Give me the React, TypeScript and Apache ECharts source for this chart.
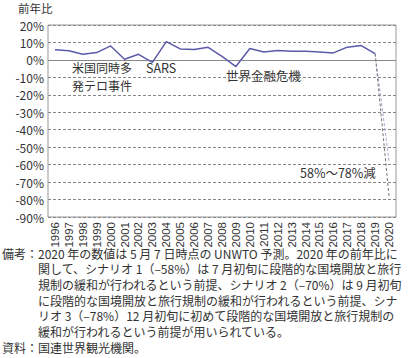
import React, { useEffect, useRef } from "react";
import * as echarts from "echarts";

const years = [
  "1996","1997","1998","1999","2000","2001","2002","2003","2004","2005",
  "2006","2007","2008","2009","2010","2011","2012","2013","2014","2015",
  "2016","2017","2018","2019","2020",
];
const growth = [
  5.8, 5.2, 3.2, 4.2, 8.0, 0.4, 3.2, -1.4, 10.5, 6.3,
  6.0, 7.2, 2.0, -3.8, 6.5, 4.5, 5.4, 5.0, 4.9, 4.6,
  4.0, 7.3, 8.2, 3.6, null,
];
const scenarioHigh = -58;
const scenarioLow = -78;
const yTicksMin = -90;
const yTicksMax = 20;
const yInterval = 10;

const noteLines = [
  "備考：2020 年の数値は 5 月 7 日時点の UNWTO 予測。2020 年の前年比に",
  "関して、シナリオ 1（–58%）は 7 月初旬に段階的な国境開放と旅行",
  "規制の緩和が行われるという前提、シナリオ 2（–70%）は 9 月初旬",
  "に段階的な国境開放と旅行規制の緩和が行われるという前提、シナ",
  "リオ 3（–78%）12 月初旬に初めて段階的な国境開放と旅行規制の",
  "緩和が行われるという前提が用いられている。",
  "資料：国連世界観光機関。",
];

const FONT = "'Noto Sans CJK JP', 'Noto Sans', sans-serif";
const NUMFONT = "'Liberation Sans', 'Noto Sans CJK JP', sans-serif";

export default function App() {
  const ref = useRef<HTMLDivElement>(null);
  useEffect(() => {
    document.body.style.margin = "0";
    if (!ref.current) return;
    const chart = echarts.init(ref.current, undefined, { renderer: "svg" });
    const n = years.length;
    const last = growth[n - 2] as number;
    const proj = (v: number) => years.map((_, i) => (i === n - 2 ? last : i === n - 1 ? v : null));

    const txt = (t: string, x: number, y: number, size = 12) => ({
      type: "text",
      x,
      y,
      style: {
        text: t,
        fontSize: size,
        fontFamily: FONT,
        fill: "#333",
        verticalAlign: "middle",
        lineHeight: size,
      },
    });

    const graphics: any[] = [
      txt("前年比", 18, 8.4, 11.5),
      txt("米国同時多", 72, 67.5, 12),
      txt("発テロ事件", 72, 85.2, 12),
      txt("SARS", 146, 67.5, 12.5),
      txt("世界金融危機", 226, 75, 12.5),
      txt("58%～78%減", 300, 172, 12.5),
    ];
    noteLines.forEach((t, i) => {
      const indent = i === 0 || i === noteLines.length - 1 ? 2 : 38;
      graphics.push(txt(t, indent, 253 + i * 15.7, 12));
    });

    chart.setOption({
      animation: false,
      grid: {
        left: 48,
        right: 21,
        top: 25,
        bottom: 141,
        show: true,
        borderColor: "#999",
        borderWidth: 1,
        backgroundColor: "transparent",
      },
      xAxis: {
        type: "category",
        data: years,
        boundaryGap: true,
        axisLine: { show: false },
        axisTick: { show: false },
        axisLabel: {
          rotate: 90,
          fontSize: 11.5,
          fontFamily: NUMFONT,
          color: "#333",
          margin: 5,
          interval: 0,
        },
      },
      yAxis: {
        type: "value",
        min: yTicksMin,
        max: yTicksMax,
        interval: yInterval,
        axisLine: { show: false },
        axisTick: { show: false },
        axisLabel: {
          formatter: "{value}%",
          fontSize: 12,
          fontFamily: FONT,
          color: "#333",
          margin: 4,
        },
        splitLine: { lineStyle: { color: "#888", type: [3, 2], width: 1 } },
      },
      graphic: graphics,
      series: [
        {
          type: "line",
          data: growth,
          symbol: "none",
          lineStyle: { color: "#5c5aa8", width: 1.5 },
          z: 5,
          markLine: {
            silent: true,
            symbol: "none",
            label: { show: false },
            lineStyle: { color: "#888", type: "solid", width: 1 },
            data: [{ yAxis: 0 }],
          },
        },
        {
          type: "line",
          data: proj(scenarioHigh),
          symbol: "none",
          connectNulls: false,
          lineStyle: { color: "#a7a6d2", width: 1, type: [3, 2] },
        },
        {
          type: "line",
          data: proj(scenarioLow),
          symbol: "none",
          connectNulls: false,
          lineStyle: { color: "#777", width: 1, type: [3, 2] },
        },
      ],
    });
    return () => chart.dispose();
  }, []);
  return <div ref={ref} style={{ width: 417, height: 358 }} />;
}
